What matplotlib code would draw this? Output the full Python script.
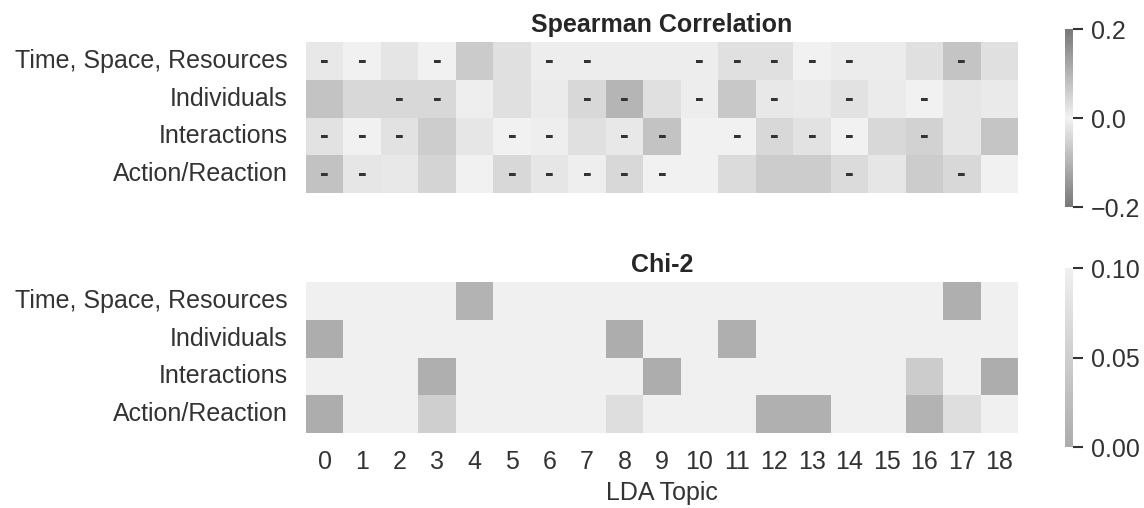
import numpy as np
import matplotlib
matplotlib.use("Agg")
import matplotlib.pyplot as plt
from matplotlib.colors import LinearSegmentedColormap
import seaborn as sns

sns.set_style("white")
plt.rcParams['font.family'] = ['Liberation Sans', 'DejaVu Sans']

categories = ["Time, Space, Resources", "Individuals", "Interactions", "Action/Reaction"]
topics = list(range(19))

# Spearman correlation per category (rows) and LDA topic (columns)
spearman_tsr = [-0.016, -0.002, 0.021, -0.002, 0.063, 0.029, -0.008, -0.008, 0.008, 0.008,
                -0.008, -0.029, -0.029, -0.003, -0.010, 0.010, 0.029, -0.075, 0.029]
spearman_ind = [0.075, 0.042, -0.042, -0.042, 0.007, 0.029, 0.011, -0.042, -0.099, 0.029,
                -0.008, 0.068, -0.016, 0.013, -0.026, 0.011, -0.003, 0.020, 0.013]
spearman_int = [-0.026, -0.003, -0.026, 0.060, 0.020, -0.002, -0.007, 0.029, -0.016, -0.076,
                0.002, -0.003, -0.042, -0.026, -0.003, 0.042, -0.052, 0.020, 0.072]
spearman_act = [-0.078, -0.020, 0.016, 0.049, 0.002, -0.042, -0.020, -0.007, -0.042, -0.002,
                0.003, 0.036, 0.062, 0.062, -0.036, 0.020, 0.062, -0.042, 0.003]

# Chi-2 p-values (colour scale clipped at 0.10)
chi2_tsr = [0.62, 0.48, 0.71, 0.33, 0.010, 0.55, 0.80, 0.41, 0.37, 0.66,
            0.52, 0.29, 0.44, 0.73, 0.58, 0.90, 0.35, 0.004, 0.47]
chi2_ind = [0.002, 0.39, 0.61, 0.28, 0.85, 0.46, 0.57, 0.32, 0.002, 0.49,
            0.68, 0.004, 0.36, 0.53, 0.42, 0.77, 0.64, 0.51, 0.45]
chi2_int = [0.31, 0.56, 0.43, 0.004, 0.69, 0.88, 0.74, 0.27, 0.38, 0.002,
            0.95, 0.59, 0.26, 0.34, 0.67, 0.22, 0.047, 0.40, 0.002]
chi2_act = [0.002, 0.30, 0.83, 0.051, 0.91, 0.25, 0.37, 0.63, 0.074, 0.21,
            0.82, 0.54, 0.006, 0.006, 0.24, 0.60, 0.010, 0.074, 0.15]

spearman = np.array([spearman_tsr, spearman_ind, spearman_int, spearman_act])
chi2 = np.array([chi2_tsr, chi2_ind, chi2_int, chi2_act])

# only the sign is annotated
annot = np.where(spearman < 0, "-", "")

cmap_div = LinearSegmentedColormap.from_list("greydiv", ["#777777", "#f2f2f2", "#777777"])
cmap_p = LinearSegmentedColormap.from_list("greyp", ["#acacac", "#f0f0f0"])

fig = plt.figure(figsize=(11.44, 5.08), dpi=100)
ax1 = fig.add_axes([0.2675, 0.620, 0.6224, 0.2972])
cax1 = fig.add_axes([0.931, 0.5925, 0.007, 0.3504])
ax2 = fig.add_axes([0.2675, 0.1476, 0.6224, 0.2972])
cax2 = fig.add_axes([0.931, 0.120, 0.007, 0.352])

fs = 18
txt = "#333333"

sns.heatmap(spearman, ax=ax1, cbar_ax=cax1, cmap=cmap_div, vmin=-0.2, vmax=0.2,
            annot=annot, fmt="",
            annot_kws={"fontsize": 19, "fontweight": "bold", "color": "#333333"},
            xticklabels=False, yticklabels=categories)
ax1.set_title("Spearman Correlation", fontsize=fs, fontweight="bold", color="#262626", pad=7)

sns.heatmap(chi2, ax=ax2, cbar_ax=cax2, cmap=cmap_p, vmin=0.0, vmax=0.1,
            xticklabels=topics, yticklabels=categories)
ax2.set_title("Chi-2", fontsize=fs, fontweight="bold", color="#262626", pad=7)
ax2.set_xlabel("LDA Topic", fontsize=fs, color=txt, labelpad=5)

for ax in (ax1, ax2):
    ax.tick_params(axis="y", length=0, pad=13, labelsize=fs, labelcolor=txt, rotation=0)
    ax.tick_params(axis="x", length=0, pad=12, labelsize=fs, labelcolor=txt, rotation=0)

cax1.yaxis.set_ticks([-0.2, 0.0, 0.2])
cax2.yaxis.set_ticks([0.0, 0.05, 0.10])
for cax in (cax1, cax2):
    cax.tick_params(length=7, width=1.5, color=txt, labelsize=fs, labelcolor=txt, pad=6)

fig.savefig("out.png", dpi=100)
